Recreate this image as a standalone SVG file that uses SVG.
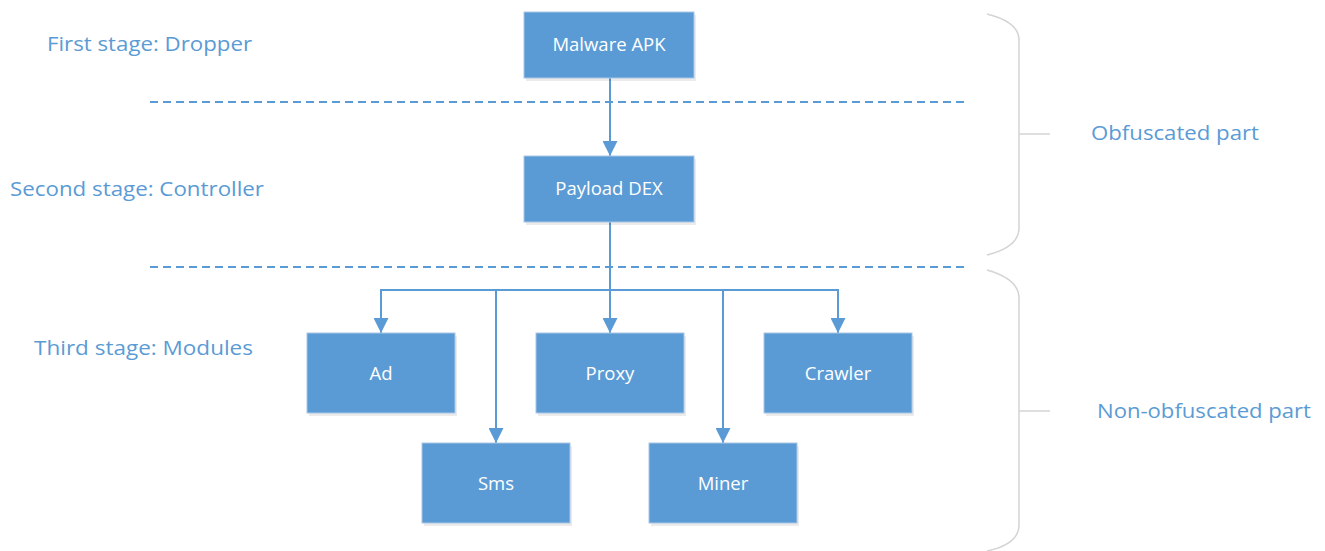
<svg xmlns="http://www.w3.org/2000/svg" width="1325" height="551" viewBox="0 0 1325 551">
<defs>
<style>
.box{fill:#5B9BD5;stroke:#A9C6E6;stroke-width:1}
.shadow{fill:#000;opacity:0.08}
.bt{fill:#fff;font-family:"Open Sans","Noto Sans","Liberation Sans",sans-serif;font-size:18.5px;text-anchor:middle}
.lbl{fill:#5B9BD5;font-family:"Open Sans","Noto Sans","Liberation Sans",sans-serif;font-size:20px}
.conn{fill:none;stroke:#5B9BD5;stroke-width:2}
.dash{fill:none;stroke:#5B9BD5;stroke-width:2;stroke-dasharray:8 5}
.brace{fill:none;stroke:#D4D4D4;stroke-width:1.5}
</style>
<marker id="arr" viewBox="0 0 14 14" refX="14" refY="7" markerWidth="15" markerHeight="15" markerUnits="userSpaceOnUse" orient="auto">
<path d="M0,0 L14,7 L0,14 Z" fill="#5B9BD5"/>
</marker>
</defs>
<rect width="1325" height="551" fill="#fff"/>

<g id="labels">
<text class="lbl" x="47" y="51" textLength="205" lengthAdjust="spacingAndGlyphs">First stage: Dropper</text>
<text class="lbl" x="10" y="196" textLength="254" lengthAdjust="spacingAndGlyphs">Second stage: Controller</text>
<text class="lbl" x="34" y="355" textLength="219" lengthAdjust="spacingAndGlyphs">Third stage: Modules</text>
<text class="lbl" x="1091" y="140" textLength="168" lengthAdjust="spacingAndGlyphs">Obfuscated part</text>
<text class="lbl" x="1097" y="418" textLength="214" lengthAdjust="spacingAndGlyphs">Non-obfuscated part</text>
</g>

<g id="separators">
<line class="dash" x1="150" y1="102" x2="965" y2="102"/>
<line class="dash" x1="150" y1="267" x2="965" y2="267"/>
</g>

<g id="braces">
<path class="brace" d="M987,14 Q1019,22 1019,40 L1019,228 Q1019,247 987,255"/>
<line class="brace" x1="1019" y1="134" x2="1050" y2="134"/>
<path class="brace" d="M987,270 Q1019,279 1019,298 L1019,525 Q1019,544 987,551"/>
<line class="brace" x1="1019" y1="411" x2="1050" y2="411"/>
</g>

<g id="connectors">
<line class="conn" x1="610" y1="78" x2="610" y2="156" marker-end="url(#arr)"/>
<line class="conn" x1="610" y1="222" x2="610" y2="290"/>
<line class="conn" x1="381" y1="290" x2="838" y2="290"/>
<line class="conn" x1="381" y1="289" x2="381" y2="333" marker-end="url(#arr)"/>
<line class="conn" x1="496" y1="290" x2="496" y2="443" marker-end="url(#arr)"/>
<line class="conn" x1="610" y1="290" x2="610" y2="333" marker-end="url(#arr)"/>
<line class="conn" x1="723" y1="290" x2="723" y2="443" marker-end="url(#arr)"/>
<line class="conn" x1="838" y1="289" x2="838" y2="333" marker-end="url(#arr)"/>
</g>

<g id="malware-apk">
<rect class="shadow" x="526" y="15" width="170" height="66"/>
<rect class="box" x="524" y="12" width="170" height="66"/>
<text class="bt" x="609" y="51">Malware APK</text>
</g>
<g id="payload-dex">
<rect class="shadow" x="526" y="159" width="170" height="66"/>
<rect class="box" x="524" y="156" width="170" height="66"/>
<text class="bt" x="609" y="195">Payload DEX</text>
</g>
<g id="ad">
<rect class="shadow" x="309" y="336" width="148" height="80"/>
<rect class="box" x="307" y="333" width="148" height="80"/>
<text class="bt" x="381" y="380">Ad</text>
</g>
<g id="proxy">
<rect class="shadow" x="538" y="336" width="148" height="80"/>
<rect class="box" x="536" y="333" width="148" height="80"/>
<text class="bt" x="610" y="380">Proxy</text>
</g>
<g id="crawler">
<rect class="shadow" x="766" y="336" width="148" height="80"/>
<rect class="box" x="764" y="333" width="148" height="80"/>
<text class="bt" x="838" y="380">Crawler</text>
</g>
<g id="sms">
<rect class="shadow" x="424" y="446" width="148" height="80"/>
<rect class="box" x="422" y="443" width="148" height="80"/>
<text class="bt" x="496" y="490">Sms</text>
</g>
<g id="miner">
<rect class="shadow" x="651" y="446" width="148" height="80"/>
<rect class="box" x="649" y="443" width="148" height="80"/>
<text class="bt" x="723" y="490">Miner</text>
</g>
</svg>
